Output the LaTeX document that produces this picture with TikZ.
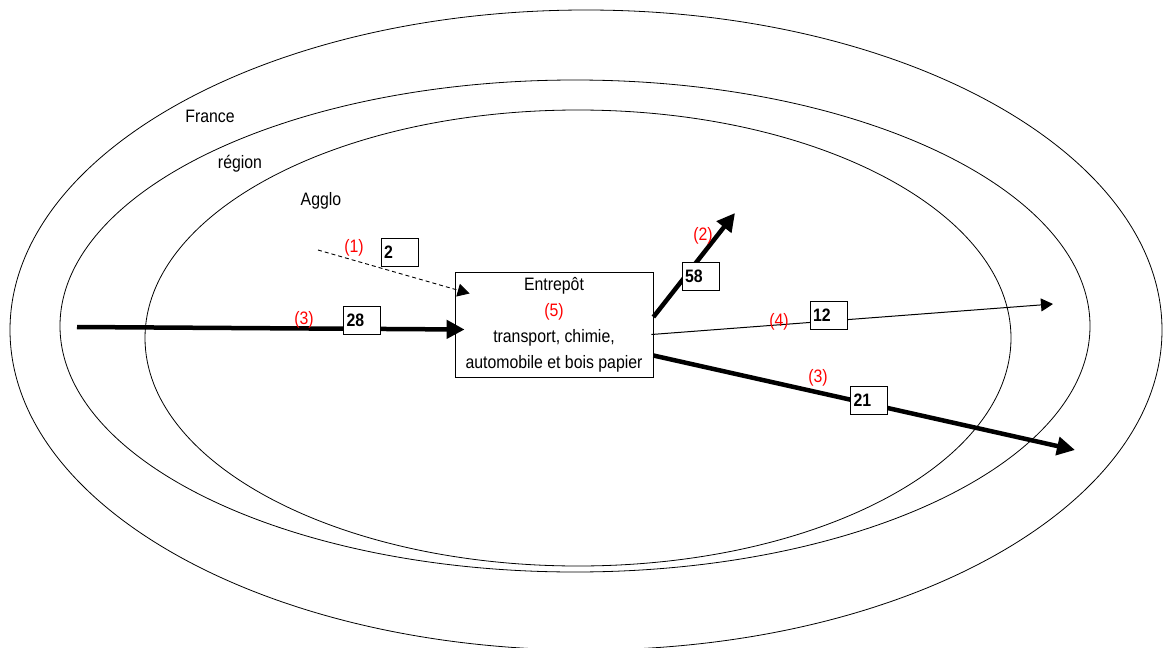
\documentclass[tikz,border=0pt]{standalone}
\usepackage{fontspec}
\setmainfont{Liberation Sans}[FakeStretch=0.88]
\usepackage{xcolor}
\usepackage{tikz}
\usetikzlibrary{positioning,arrows.meta}

\begin{document}
\begin{tikzpicture}[x=1pt, y=-1pt, font=\fontsize{18}{26}\selectfont,
		zone/.style={line width=0.8pt},
		heavy/.style={line width=4.5pt, -{Triangle[length=18pt,width=18pt]}},
		light/.style={line width=1pt, -{Triangle[length=12pt,width=13pt]}},
		weak/.style={line width=0.9pt, dash pattern=on 4pt off 3pt, -{Triangle[length=12pt,width=13pt]}},
		numbox/.style={draw, fill=white, line width=0.8pt, font=\fontsize{18}{19}\selectfont\bfseries,
			minimum height=28pt, inner sep=3pt, text width=31pt, align=left},
		tag/.style={text=red, inner sep=0pt}]
		\useasboundingbox (0,0) rectangle (1163,648);

		% zones
		\draw[zone] (586,330) ellipse [x radius=576, y radius=320];
		\draw[zone] (575,326) ellipse [x radius=515, y radius=246];
		\draw[zone] (578,338) ellipse [x radius=433, y radius=228];

		\node (france) at (210,116) {France};
		\node (region) at (240,164) {région};
		\node (agglo) at (321,201) {Agglo};

		% entrepot
		\node[draw, line width=0.8pt, minimum width=198pt, minimum height=105pt, align=center, inner sep=0pt]
			(ent) at (554,324.5) {Entrepôt\\ \textcolor{red}{(5)}\\ transport, chimie,\\ automobile et bois papier};

		\coordinate (src1) at (318,250);
		\coordinate (src3) at (77,327);
		\coordinate (dst2) at (735,213);
		\coordinate (dst4) at (1053,304);
		\coordinate (dst3) at (1075,450);

		\coordinate (in1) at ([shift={(15pt,31pt)}]ent.west);
		\coordinate (in3) at ([shift={(10pt,-5pt)}]ent.west);
		\coordinate (out2) at ([yshift=7.5pt]ent.east);
		\coordinate (out4) at ([shift={(-2pt,-10pt)}]ent.east);
		\coordinate (out3) at ([yshift=-31pt]ent.east);

		% flux
		\draw[weak] (src1) -- (in1);
		\draw[heavy] (src3) -- (in3);
		\draw[heavy] (out2) -- (dst2);
		\draw[light] (out4) -- (dst4);
		\draw[heavy] (out3) -- (dst3);

		\node[tag] (t1) at (354,248) {(1)};
		\node[tag] (t3a) at (304,320) {(3)};
		\node[tag] (t2) at (703,236) {(2)};
		\node[tag] (t4) at (779,322) {(4)};
		\node[tag] (t3b) at (818,378) {(3)};

		\node[numbox] (n2) at (399.5,252) {2};
		\node[numbox] (n28) at (362,320) {28};
		\node[numbox] (n58) at (700.5,276) {58};
		\node[numbox] (n12) at (828.5,315.5) {12};
		\node[numbox] (n21) at (869,400.5) {21};
	\end{tikzpicture}
\end{document}
